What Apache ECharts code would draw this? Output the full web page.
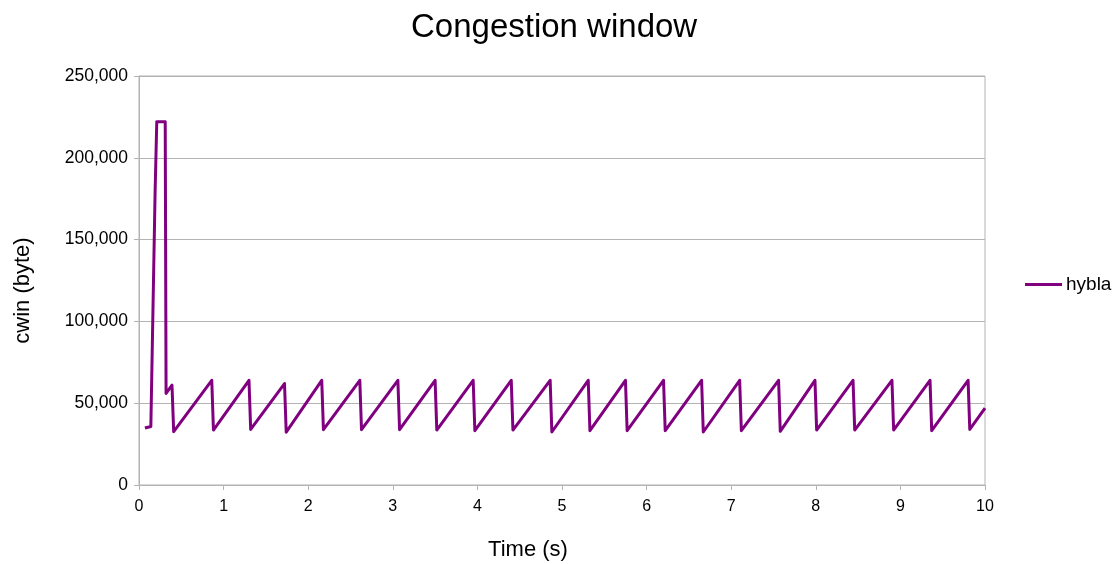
<!DOCTYPE html>
<html>
<head>
<meta charset="utf-8">
<script src="https://cdn.jsdelivr.net/npm/echarts@6/dist/echarts.min.js"></script>
<style>html,body{margin:0;padding:0;background:#fff}#c{width:1120px;height:564px}</style>
</head>
<body>
<div id="c"></div>
<script>
var times = [0.07, 0.14, 0.19, 0.21, 0.31, 0.32, 0.39, 0.41,
  0.86, 0.88, 1.30, 1.32, 1.72, 1.74, 2.16, 2.18, 2.61, 2.63, 3.06, 3.08,
  3.50, 3.52, 3.95, 3.97, 4.40, 4.42, 4.86, 4.88, 5.31, 5.33, 5.75, 5.77,
  6.20, 6.22, 6.65, 6.67, 7.10, 7.12, 7.56, 7.58, 7.99, 8.01, 8.44, 8.46,
  8.90, 8.92, 9.35, 9.37, 9.80, 9.82, 10.0];
var cwin = [34800, 35800, 178000, 222000, 222000, 56000, 61000, 32600,
  64000, 33600, 64000, 34000, 62000, 32300, 64000, 33800, 64000, 33800, 64000, 33800,
  64000, 33600, 64000, 33200, 64000, 33600, 64000, 32400, 64000, 33200, 64000, 33200,
  64000, 33200, 64000, 32400, 64000, 33200, 64000, 32800, 64000, 33600, 64000, 33600,
  64000, 33600, 64000, 33200, 64000, 34000, 47000];
var seriesName = 'hybla';
var titleText = 'Congestion window';
var xName = 'Time (s)';
var yName = 'cwin (byte)';

var data = times.map(function (t, i) { return [t, cwin[i]]; });
function commas(v) { return String(v).replace(/\B(?=(\d{3})+(?!\d))/g, ','); }
var FONT = 'Liberation Sans';

var chart = echarts.init(document.getElementById('c'), null, {renderer: 'canvas'});
chart.setOption({
  animation: false,
  backgroundColor: '#ffffff',
  textStyle: {fontFamily: FONT},
  title: {
    text: titleText, left: 406, top: 6,
    textStyle: {fontSize: 33, fontWeight: 'normal', color: '#000', fontFamily: FONT}
  },
  legend: {
    orient: 'vertical', left: 1025, top: 275, padding: 0,
    icon: 'rect', itemWidth: 37, itemHeight: 3, itemGap: 4,
    textStyle: {fontSize: 19, color: '#000', fontFamily: FONT, padding: [0, 0, 0, -1]},
    data: [seriesName]
  },
  grid: {left: 139, right: 135, top: 76, bottom: 79, show: true, borderColor: '#b3b3b3', borderWidth: 1,
    containLabel: false, outerBoundsMode: 'none'},
  xAxis: {
    type: 'value', min: 0, max: 10, interval: 1,
    name: xName, nameLocation: 'middle', nameGap: 54,
    nameTextStyle: {fontSize: 22, color: '#000', fontFamily: FONT, padding: [0, 68, 0, 0]},
    axisLine: {show: true, lineStyle: {color: '#b3b3b3'}},
    axisTick: {show: true, inside: false, length: 5, lineStyle: {color: '#b3b3b3'}},
    axisLabel: {fontSize: 16, color: '#000', fontFamily: FONT, margin: 14},
    splitLine: {show: false}
  },
  yAxis: {
    type: 'value', min: 0, max: 250000, interval: 50000,
    name: yName, nameLocation: 'middle', nameGap: 105, nameRotate: 90,
    nameTextStyle: {fontSize: 22, color: '#000', fontFamily: FONT, padding: [0, 0, 0, -20]},
    axisLine: {show: true, lineStyle: {color: '#b3b3b3'}},
    axisTick: {show: true, inside: false, length: 5, lineStyle: {color: '#b3b3b3'}},
    axisLabel: {fontSize: 17.5, color: '#000', fontFamily: FONT, margin: 11, formatter: function (v) { return commas(v); }},
    splitLine: {show: true, lineStyle: {color: '#b3b3b3', width: 1}}
  },
  series: [{
    name: seriesName, type: 'line', data: data,
    showSymbol: false, symbol: 'none',
    lineStyle: {color: '#800080', width: 3, join: 'round'},
    itemStyle: {color: '#800080'}
  }]
});
</script>
</body>
</html>
